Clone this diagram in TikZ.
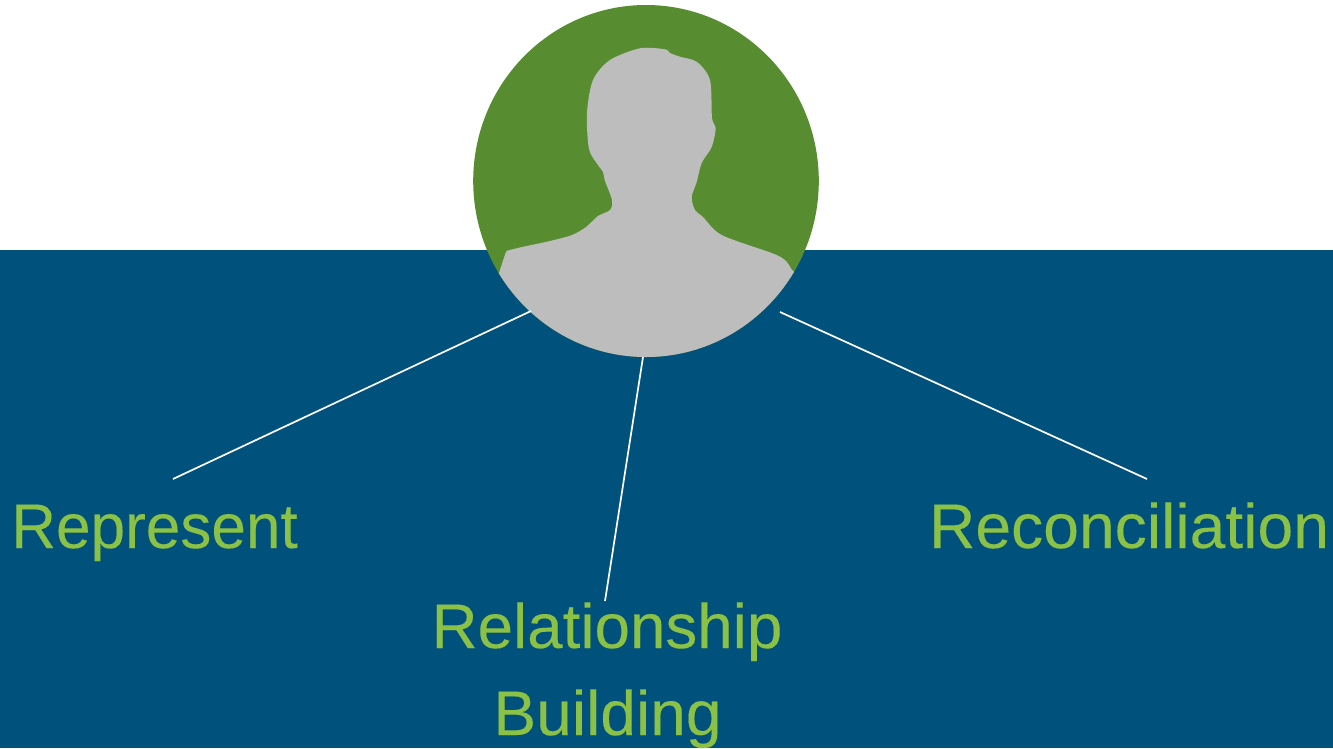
\documentclass[tikz,border=0pt]{standalone}
\usepackage{graphicx}
\usepackage{fontspec}
\setmainfont{Liberation Sans}[FakeBold=0.12]
\definecolor{bandblue}{HTML}{00527D}
\definecolor{disc}{HTML}{578C30}
\definecolor{figgrey}{HTML}{BDBDBD}
\definecolor{labelgreen}{HTML}{8BC145}
\tikzset{
  lab/.style={text=labelgreen,inner sep=0pt,font=\fontsize{63}{88}\selectfont,anchor=base},
  spoke/.style={draw=white,line width=1.7pt},
}
\begin{document}
\begin{tikzpicture}[x=1pt,y=-1pt]
\useasboundingbox (0,0) rectangle (1333,748);
\fill[bandblue] (0,250) rectangle (1333,748);
\fill[disc] (646,181) ellipse [x radius=172.8,y radius=176];
\begin{scope}
\clip (646,181) ellipse [x radius=172.8,y radius=176];
\fill[figgrey] (498,276) -- (505.5,253) -- plot[smooth,tension=0.5] coordinates {
 (507,250.7) (522,247) (550,241) (572,235) (586,227) (598,216) (610,210) (612,200) (605,181) (603,172) (598,165) (589,149)
 (587,113) (593,80) (610,60) (640,48.3) (665,49.3) (670,53) (680,56.7) (697,62) (710,80) (712,118) (715.7,128) (711.7,147) (701.7,163)
 (696.7,182) (691.7,197) (695,210) (703,217) (721.7,235) (771.7,253) (785,260) (792,270)
} -- (830,300) -- (800,370) -- (480,370) -- cycle;
\end{scope}
\coordinate (repA) at (531,311);
\coordinate (repB) at (173,479);
\coordinate (relA) at (643,357);
\coordinate (relB) at (605,601);
\coordinate (recA) at (780,312);
\coordinate (recB) at (1147,479);
\draw[spoke] (repA) -- (repB);
\draw[spoke] (relA) -- (relB);
\draw[spoke] (recA) -- (recB);
\node[lab] (represent) at (154.5,548) {\scalebox{0.986}[1]{Represent}};
\node[lab] (reconciliation) at (1129,548) {\scalebox{1.02}[1]{Reconciliation}};
\node[lab] (relationship) at (607,648) {\scalebox{1.012}[1]{Relationship}};
\node[lab] (building) at (607.5,735) {\scalebox{1.018}[1]{Building}};
\end{tikzpicture}
\end{document}
